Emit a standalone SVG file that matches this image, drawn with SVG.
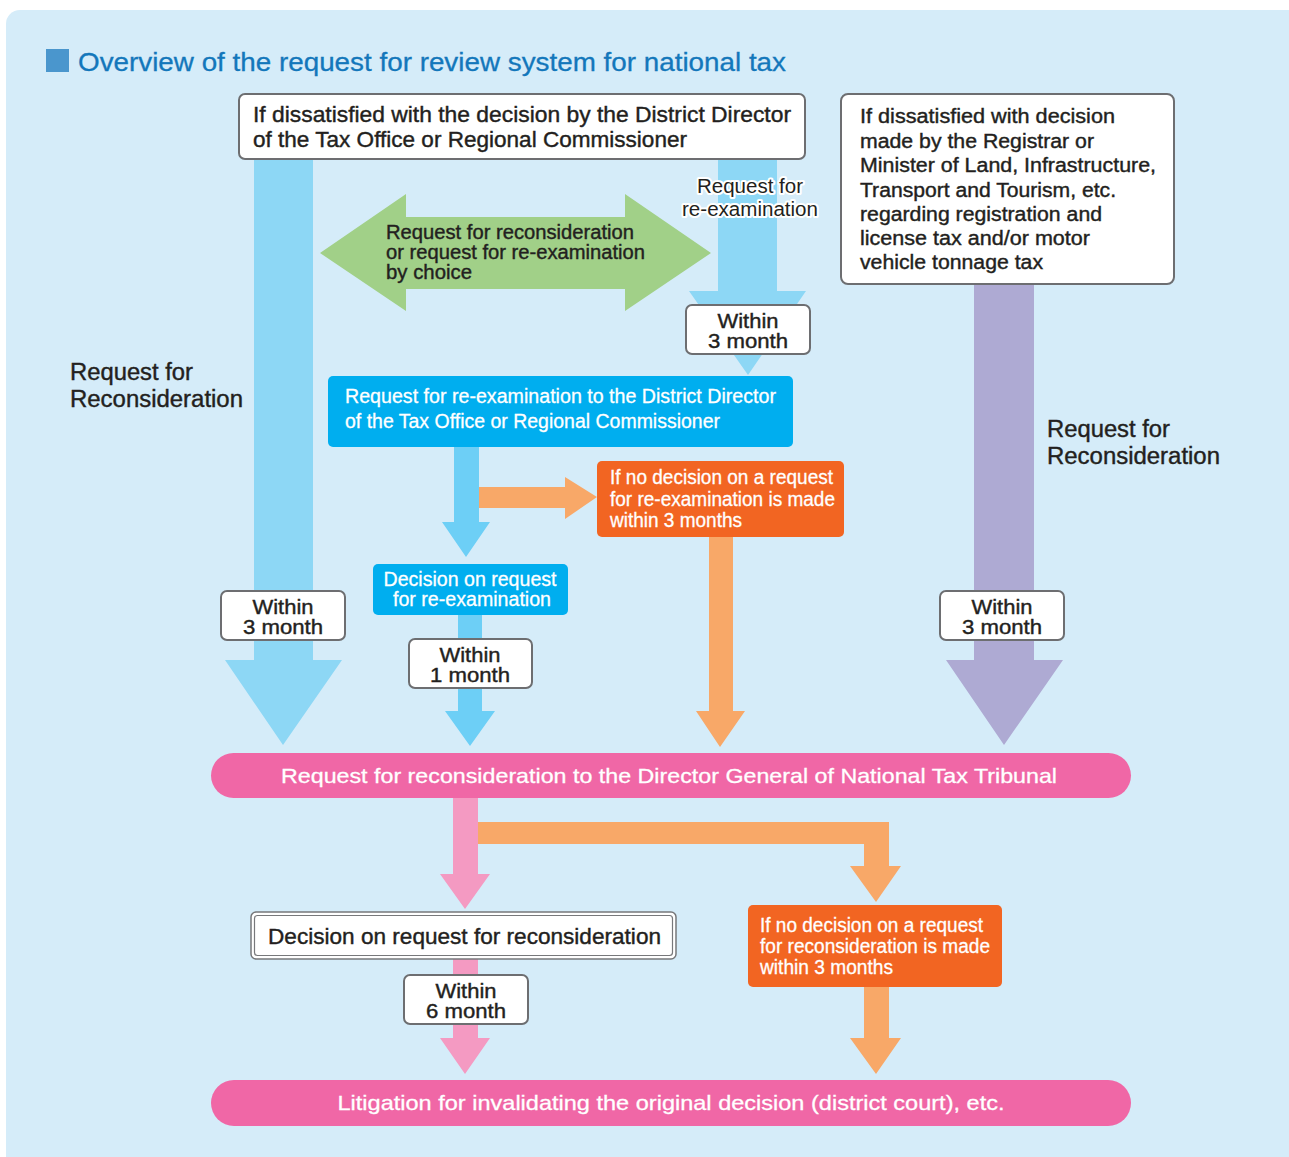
<svg xmlns="http://www.w3.org/2000/svg" width="1289" height="1157" viewBox="0 0 1289 1157">
<style>
text{font-family:"Liberation Sans",Arial,Helvetica,sans-serif;fill:#231f20;stroke:#231f20;stroke-width:0.4}
.t{font-size:26px;fill:#1377bb;stroke:#1377bb;stroke-width:0.3}
.box{fill:#fff;stroke:#6d6e71;stroke-width:2}
.w{font-size:20px;text-anchor:middle}
.dk{font-size:20px}
.wh{fill:#fff;stroke:#fff;stroke-width:0.3;font-size:20px}
.lbl{font-size:23px}
.halo{font-size:20px;text-anchor:middle;stroke:#fff;stroke-width:4;stroke-linejoin:round;paint-order:stroke}
.blue{fill:#00aeef}
.orb{fill:#f26522}
.pink{fill:#f067a6}
.ablue{fill:#8dd7f5}
.asb{fill:#6dcff6}
.aor{fill:#f8a868}
.apk{fill:#f49ac2}
.apu{fill:#aeaad3}
.agr{fill:#a1d088}
</style>
<rect x="6" y="10" width="1300" height="1170" rx="14" fill="#d5ecf9"/>
<g id="title">
<rect x="46" y="49" width="23" height="23" fill="#4a96cd"/>
<text class="t" x="78" y="71" textLength="708" lengthAdjust="spacingAndGlyphs">Overview of the request for review system for national tax</text>
</g>
<g id="connectors">
<polygon class="ablue" points="254,159 313,159 313,660 342,660 283,745 225,660 254,660"/>
<polygon class="ablue" points="718,159 777,159 777,291 806,291 748,375 689,291 718,291"/>
<polygon class="agr" points="320,253 406,194 406,217 625,217 625,194 711,253 625,311 625,289 406,289 406,311"/>
<polygon class="asb" points="454,447 479,447 479,522 490,522 466,557 442,522 454,522"/>
<polygon class="aor" points="479,487 565,487 565,477 597,497 565,519 565,508 479,508"/>
<polygon class="aor" points="709,537 733,537 733,711 745,711 720,747 696,711 709,711"/>
<polygon class="asb" points="458,615 482,615 482,711 495,711 470,746 445,711 458,711"/>
<polygon class="apu" points="974,284 1034,284 1034,660 1063,660 1004,745 946,660 974,660"/>
<polygon class="apk" points="453,798 478,798 478,874 490,874 465,909 440,874 453,874"/>
<polygon class="aor" points="478,822 889,822 889,866 901,866 876,902 850,866 864,866 864,844 478,844"/>
<polygon class="apk" points="453,959 478,959 478,1038 490,1038 465,1074 440,1038 453,1038"/>
<polygon class="aor" points="864,987 889,987 889,1038 901,1038 876,1074 850,1038 864,1038"/>
</g>
<g id="label-reexam">
<text class="halo" x="750" y="193" textLength="106" lengthAdjust="spacingAndGlyphs">Request for</text>
<text class="halo" x="750" y="216" textLength="136" lengthAdjust="spacingAndGlyphs">re-examination</text>
</g>
<g id="label-choice">
<text class="dk" x="386" y="239" textLength="248" lengthAdjust="spacingAndGlyphs">Request for reconsideration</text>
<text class="dk" x="386" y="259" textLength="259" lengthAdjust="spacingAndGlyphs">or request for re-examination</text>
<text class="dk" x="386" y="279" textLength="86" lengthAdjust="spacingAndGlyphs">by choice</text>
</g>
<g id="label-left">
<text class="lbl" x="70" y="380" textLength="123" lengthAdjust="spacingAndGlyphs">Request for</text>
<text class="lbl" x="70" y="407" textLength="173" lengthAdjust="spacingAndGlyphs">Reconsideration</text>
</g>
<g id="label-right">
<text class="lbl" x="1047" y="437" textLength="123" lengthAdjust="spacingAndGlyphs">Request for</text>
<text class="lbl" x="1047" y="464" textLength="173" lengthAdjust="spacingAndGlyphs">Reconsideration</text>
</g>
<g id="node-top">
<rect class="box" x="239" y="94" width="566" height="65" rx="6"/>
<text x="253" y="122" font-size="22" textLength="538" lengthAdjust="spacingAndGlyphs">If dissatisfied with the decision by the District Director</text>
<text x="253" y="147" font-size="22" textLength="434" lengthAdjust="spacingAndGlyphs">of the Tax Office or Regional Commissioner</text>
</g>
<g id="node-registrar">
<rect class="box" x="841" y="94" width="333" height="190" rx="7"/>
<text class="dk" x="860" y="123" textLength="255" lengthAdjust="spacingAndGlyphs">If dissatisfied with decision</text>
<text class="dk" x="860" y="148" textLength="234" lengthAdjust="spacingAndGlyphs">made by the Registrar or</text>
<text class="dk" x="860" y="172" textLength="296" lengthAdjust="spacingAndGlyphs">Minister of Land, Infrastructure,</text>
<text class="dk" x="860" y="197" textLength="256" lengthAdjust="spacingAndGlyphs">Transport and Tourism, etc.</text>
<text class="dk" x="860" y="221" textLength="242" lengthAdjust="spacingAndGlyphs">regarding registration and</text>
<text class="dk" x="860" y="245" textLength="230" lengthAdjust="spacingAndGlyphs">license tax and/or motor</text>
<text class="dk" x="860" y="269" textLength="183" lengthAdjust="spacingAndGlyphs">vehicle tonnage tax</text>
</g>
<g id="within-top">
<rect class="box" x="686" y="305" width="124" height="49" rx="6"/>
<text class="w" x="748" y="328" textLength="61" lengthAdjust="spacingAndGlyphs">Within</text>
<text class="w" x="748" y="348" textLength="80" lengthAdjust="spacingAndGlyphs">3 month</text>
</g>
<g id="node-reexam">
<rect class="blue" x="328" y="376" width="465" height="71" rx="5"/>
<text class="wh" x="345" y="403" textLength="431" lengthAdjust="spacingAndGlyphs">Request for re-examination to the District Director</text>
<text class="wh" x="345" y="428" textLength="375" lengthAdjust="spacingAndGlyphs">of the Tax Office or Regional Commissioner</text>
</g>
<g id="node-nodecision1">
<rect class="orb" x="597" y="461" width="247" height="76" rx="5"/>
<text class="wh" x="610" y="484" textLength="223" lengthAdjust="spacingAndGlyphs">If no decision on a request</text>
<text class="wh" x="610" y="506" textLength="225" lengthAdjust="spacingAndGlyphs">for re-examination is made</text>
<text class="wh" x="610" y="527" textLength="132" lengthAdjust="spacingAndGlyphs">within 3 months</text>
</g>
<g id="node-decision-reexam">
<rect class="blue" x="373" y="564" width="195" height="51" rx="5"/>
<text class="wh" x="470" y="586" text-anchor="middle" textLength="173" lengthAdjust="spacingAndGlyphs">Decision on request</text>
<text class="wh" x="472" y="606" text-anchor="middle" textLength="158" lengthAdjust="spacingAndGlyphs">for re-examination</text>
</g>
<g id="within-left">
<rect class="box" x="221" y="591" width="124" height="49" rx="6"/>
<text class="w" x="283" y="614" textLength="61" lengthAdjust="spacingAndGlyphs">Within</text>
<text class="w" x="283" y="634" textLength="80" lengthAdjust="spacingAndGlyphs">3 month</text>
</g>
<g id="within-1">
<rect class="box" x="409" y="639" width="123" height="49" rx="6"/>
<text class="w" x="470" y="662" textLength="61" lengthAdjust="spacingAndGlyphs">Within</text>
<text class="w" x="470" y="682" textLength="80" lengthAdjust="spacingAndGlyphs">1 month</text>
</g>
<g id="within-right">
<rect class="box" x="940" y="591" width="124" height="49" rx="6"/>
<text class="w" x="1002" y="614" textLength="61" lengthAdjust="spacingAndGlyphs">Within</text>
<text class="w" x="1002" y="634" textLength="80" lengthAdjust="spacingAndGlyphs">3 month</text>
</g>
<g id="node-tribunal">
<rect class="pink" x="211" y="753" width="920" height="45" rx="22.5"/>
<text class="wh" x="669" y="783" font-size="21" style="font-size:21px" text-anchor="middle" textLength="776" lengthAdjust="spacingAndGlyphs">Request for reconsideration to the Director General of National Tax Tribunal</text>
</g>
<g id="node-decision-recon">
<rect x="251" y="912" width="425" height="47" rx="5" fill="#fff" stroke="#77787b" stroke-width="1.5"/>
<rect x="254.5" y="915.5" width="418" height="40" rx="3" fill="#fff" stroke="#77787b" stroke-width="1.2"/>
<text x="268" y="944" font-size="22" textLength="393" lengthAdjust="spacingAndGlyphs">Decision on request for reconsideration</text>
</g>
<g id="within-6">
<rect class="box" x="404" y="975" width="124" height="49" rx="6"/>
<text class="w" x="466" y="998" textLength="61" lengthAdjust="spacingAndGlyphs">Within</text>
<text class="w" x="466" y="1018" textLength="80" lengthAdjust="spacingAndGlyphs">6 month</text>
</g>
<g id="node-nodecision2">
<rect class="orb" x="748" y="905" width="254" height="82" rx="5"/>
<text class="wh" x="760" y="932" textLength="223" lengthAdjust="spacingAndGlyphs">If no decision on a request</text>
<text class="wh" x="760" y="953" textLength="230" lengthAdjust="spacingAndGlyphs">for reconsideration is made</text>
<text class="wh" x="760" y="974" textLength="133" lengthAdjust="spacingAndGlyphs">within 3 months</text>
</g>
<g id="node-litigation">
<rect class="pink" x="211" y="1080" width="920" height="46" rx="23"/>
<text class="wh" x="671" y="1110" style="font-size:21px" text-anchor="middle" textLength="667" lengthAdjust="spacingAndGlyphs">Litigation for invalidating the original decision (district court), etc.</text>
</g>
</svg>
